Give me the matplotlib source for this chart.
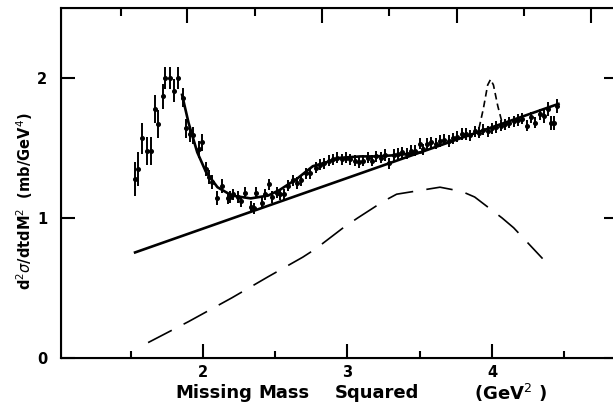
import numpy as np
import matplotlib
matplotlib.use('Agg')
import matplotlib.pyplot as plt

# measured points (missing mass squared, cross section, error)
mm2 = [1.53, 1.55, 1.58, 1.61, 1.64, 1.67, 1.69, 1.72, 1.74, 1.77,
       1.80, 1.83, 1.86, 1.88, 1.91, 1.93, 1.97, 1.99, 2.02, 2.04,
       2.06, 2.10, 2.13, 2.17, 2.19, 2.21, 2.24, 2.26, 2.29, 2.33,
       2.35, 2.37, 2.41, 2.43, 2.46, 2.48, 2.51, 2.53, 2.56, 2.59,
       2.62, 2.65, 2.68, 2.71, 2.74, 2.78, 2.81, 2.84, 2.87, 2.90,
       2.93, 2.96, 2.99, 3.02, 3.05, 3.08, 3.11, 3.14, 3.17, 3.20,
       3.23, 3.26, 3.29, 3.32, 3.35, 3.38, 3.41, 3.44, 3.47, 3.50,
       3.52, 3.55, 3.58, 3.61, 3.64, 3.67, 3.70, 3.73, 3.76, 3.79,
       3.82, 3.85, 3.88, 3.91, 3.94, 3.97, 4.00, 4.03, 4.06, 4.09,
       4.12, 4.15, 4.18, 4.21, 4.24, 4.27, 4.30, 4.33, 4.36, 4.39,
       4.41, 4.43, 4.45]
xsec = [1.28, 1.35, 1.57, 1.48, 1.48, 1.78, 1.67, 1.87, 2.00, 2.00,
        1.91, 2.00, 1.86, 1.64, 1.60, 1.59, 1.49, 1.54, 1.35, 1.29,
        1.26, 1.14, 1.23, 1.14, 1.15, 1.17, 1.15, 1.12, 1.18, 1.08,
        1.07, 1.18, 1.11, 1.17, 1.24, 1.15, 1.18, 1.17, 1.17, 1.23,
        1.27, 1.25, 1.27, 1.32, 1.32, 1.36, 1.38, 1.39, 1.41, 1.42,
        1.43, 1.42, 1.43, 1.42, 1.41, 1.40, 1.41, 1.43, 1.41, 1.44,
        1.43, 1.45, 1.39, 1.45, 1.46, 1.47, 1.46, 1.48, 1.48, 1.53,
        1.49, 1.53, 1.54, 1.53, 1.55, 1.56, 1.55, 1.57, 1.58, 1.60,
        1.60, 1.59, 1.62, 1.61, 1.63, 1.62, 1.64, 1.65, 1.66, 1.67,
        1.68, 1.69, 1.70, 1.71, 1.66, 1.72, 1.68, 1.74, 1.73, 1.78,
        1.68, 1.68, 1.80]
err = [0.12, 0.12, 0.11, 0.10, 0.10, 0.10, 0.10, 0.09, 0.08, 0.08,
       0.08, 0.08, 0.07, 0.07, 0.06, 0.06, 0.06, 0.06, 0.05, 0.05,
       0.05, 0.05, 0.05, 0.04, 0.04, 0.04, 0.04, 0.04, 0.04, 0.04,
       0.04, 0.04, 0.04, 0.04, 0.04, 0.04, 0.04, 0.04, 0.04, 0.04,
       0.04, 0.04, 0.04, 0.04, 0.04, 0.04, 0.04, 0.04, 0.04, 0.04,
       0.04, 0.04, 0.04, 0.04, 0.04, 0.04, 0.04, 0.04, 0.04, 0.04,
       0.04, 0.04, 0.04, 0.04, 0.04, 0.04, 0.04, 0.04, 0.04, 0.04,
       0.04, 0.04, 0.04, 0.04, 0.04, 0.04, 0.04, 0.04, 0.04, 0.04,
       0.04, 0.04, 0.04, 0.04, 0.04, 0.04, 0.04, 0.04, 0.04, 0.04,
       0.04, 0.04, 0.04, 0.04, 0.04, 0.04, 0.04, 0.04, 0.05, 0.05,
       0.05, 0.05, 0.05]

# background line
bg_x = [1.53, 4.46]
bg_y = [0.754, 1.815]

# fitted curve (resonance + background), joins background line near 3.5
fit_x = [1.855, 1.90, 1.96, 2.02, 2.10, 2.20, 2.33, 2.45, 2.53, 2.65,
         2.76, 2.86, 2.95, 3.09, 3.20, 3.35, 3.52]
fit_y = [1.88, 1.68, 1.47, 1.33, 1.22, 1.16, 1.14, 1.16, 1.20, 1.28,
         1.37, 1.40, 1.43, 1.44, 1.44, 1.45, 1.47]

# narrow dashed peak
pk_x = [3.91, 3.94, 3.97, 3.99, 4.01, 4.04, 4.07]
pk_y = [1.64, 1.78, 1.95, 1.99, 1.95, 1.80, 1.68]

# broad long-dashed curve
br_x = [1.62, 1.90, 2.20, 2.45, 2.69, 2.78, 2.97, 3.07, 3.25, 3.34,
        3.52, 3.64, 3.79, 3.88, 4.07, 4.15, 4.35]
br_y = [0.11, 0.26, 0.43, 0.58, 0.72, 0.78, 0.93, 1.00, 1.12, 1.17,
        1.20, 1.22, 1.19, 1.15, 1.00, 0.93, 0.71]

W, H = 613, 409
fig = plt.figure(figsize=(W/100, H/100), dpi=100)
# axes placed in pixels: left spine ~61, right ~618, bottom 358, top 8
L, R, B, T = 61, 618, 358, 8
ax = fig.add_axes([L/W, 1-B/H, (R-L)/W, (B-T)/H])

def px2x(p):
    return 2 + (p-203)/144.5

ax.set_xlim(px2x(L), px2x(R))
ax.set_ylim(0, 2.5)

ax.errorbar(mm2, xsec, yerr=err, fmt='o', ms=2.6, color='k',
            elinewidth=1.4, capsize=0)
ax.plot(bg_x, bg_y, color='k', lw=1.9)
ax.plot(fit_x, fit_y, color='k', lw=1.9)
ax.plot(pk_x, pk_y, color='k', lw=1.2, dashes=(4, 2.5))
ax.plot(br_x, br_y, color='k', lw=1.2, dashes=(16, 8))

for s in ax.spines.values():
    s.set_linewidth(1.5)

ax.set_xticks([2, 3, 4])
ax.set_xticks([1.5, 2.5, 3.5, 4.5], minor=True)
ax.set_yticks([0, 1, 2])
ax.tick_params(which='major', direction='in', length=10, width=1.5,
               labelsize=10.5, left=True, right=True, bottom=True, top=False)
ax.tick_params(which='minor', direction='in', length=5, width=1.5,
               bottom=True, top=False, left=False, right=False)
ax.tick_params(axis='x', pad=5)
ax.tick_params(axis='y', pad=10)
for lab in ax.get_xticklabels() + ax.get_yticklabels():
    lab.set_fontweight('bold')

# top scale has its own tick spacing
top = ax.twiny()
top.set_xlim(ax.get_xlim())
top.set_xticks([px2x(p) for p in [187, 322, 457, 591]])
top.set_xticks([px2x(p) for p in [121, 255, 389, 524]], minor=True)
top.tick_params(which='major', direction='in', length=11, width=1.5,
                labeltop=False)
top.tick_params(which='minor', direction='in', length=6, width=1.5)

# x label, words spaced out as in the lettered original
for word, p in [('Missing', 175), ('Mass', 258), ('Squared', 335),
                (r'(GeV$^2$ )', 474)]:
    fig.text(p/W, 1-393/H, word, ha='left', va='center', fontsize=13,
             fontweight='bold')
fig.text(25/W, 1-201/H, r'd$^2\sigma$/dtdM$^2$  (mb/GeV$^4$)',
         ha='center', va='center', rotation=90, fontsize=10.5,
         fontweight='bold')

fig.savefig('out.png', dpi=100)
